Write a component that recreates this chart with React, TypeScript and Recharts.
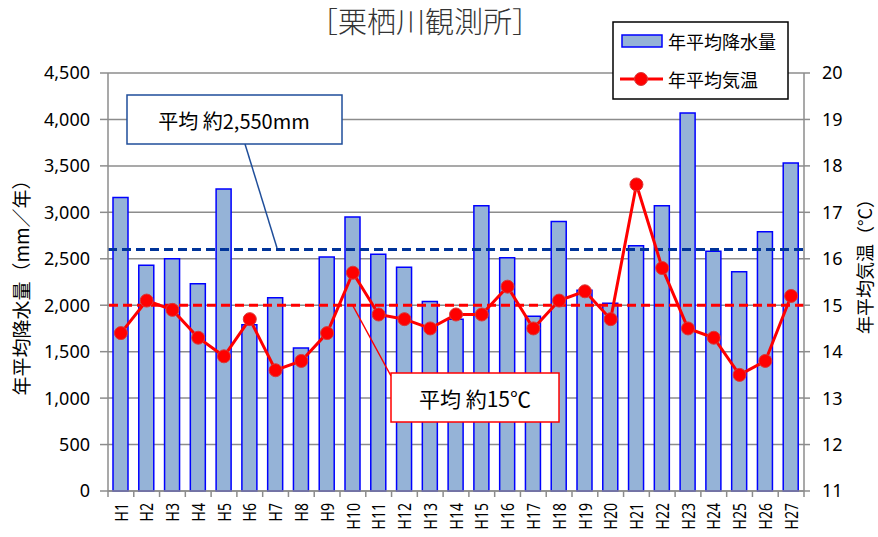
import { ComposedChart, Bar, Line, XAxis, YAxis, CartesianGrid, ReferenceLine } from 'recharts'

const categories = ['H1', 'H2', 'H3', 'H4', 'H5', 'H6', 'H7', 'H8', 'H9', 'H10', 'H11', 'H12', 'H13', 'H14', 'H15', 'H16', 'H17', 'H18', 'H19', 'H20', 'H21', 'H22', 'H23', 'H24', 'H25', 'H26', 'H27']
const rainfall = [3160, 2430, 2500, 2230, 3250, 1790, 2080, 1540, 2520, 2950, 2550, 2410, 2040, 1850, 3070, 2510, 1880, 2900, 2160, 2020, 2640, 3070, 4070, 2580, 2360, 2790, 3530]
const temperature = [14.4, 15.1, 14.9, 14.3, 13.9, 14.7, 13.6, 13.8, 14.4, 15.7, 14.8, 14.7, 14.5, 14.8, 14.8, 15.4, 14.5, 15.1, 15.3, 14.7, 17.6, 15.8, 14.5, 14.3, 13.5, 13.8, 15.2]
const rainTicks = [0, 500, 1000, 1500, 2000, 2500, 3000, 3500, 4000, 4500]
const tempTicks = [11, 12, 13, 14, 15, 16, 17, 18, 19, 20]
const rainAverageLine = 2600
const tempAverageLine = 15

const data = categories.map((name, i) => ({ name, rain: rainfall[i], temp: temperature[i] }))

const W = 878
const H = 537
const PLOT_LEFT = 108
const PLOT_RIGHT = 804
const BAND = (PLOT_RIGHT - PLOT_LEFT) / categories.length
const AXIS_GRAY = '#8c8c8c'
const NUM_FONT = '"Noto Sans", sans-serif'
const JP_FONT = '"Noto Sans CJK JP", sans-serif'

function XTick(props: any) {
    const { x, y, payload, index } = props
    const last = index === categories.length - 1
    return (
        <g>
            <line x1={x - BAND / 2} x2={x - BAND / 2} y1={y} y2={y + 6} stroke={AXIS_GRAY} strokeWidth={1.5} />
            {last && <line x1={x + BAND / 2} x2={x + BAND / 2} y1={y} y2={y + 6} stroke={AXIS_GRAY} strokeWidth={1.5} />}
            <text
                transform={`translate(${x},${y + 12}) rotate(-90) scale(0.78,1)`}
                textAnchor="end"
                dominantBaseline="central"
                fontSize={18}
                fontFamily={NUM_FONT}
                fill="#000"
            >
                {payload.value}
            </text>
        </g>
    )
}

export default function App() {
    return (
        <div style={{ position: 'absolute', left: 0, top: 0, width: W, height: H, background: '#fff', overflow: 'hidden' }}>
            <ComposedChart width={W} height={H} data={data} margin={{ top: 73, right: 0, bottom: 0, left: 0 }}>
                <CartesianGrid vertical={false} stroke={AXIS_GRAY} strokeWidth={1.5} yAxisId="rain" />
                <XAxis
                    dataKey="name"
                    height={46}
                    interval={0}
                    tickLine={false}
                    tickSize={0}
                    tickMargin={0}
                    stroke={AXIS_GRAY}
                    strokeWidth={1.5}
                    tick={<XTick />}
                />
                <YAxis
                    yAxisId="rain"
                    width={108}
                    domain={[0, 4500]}
                    ticks={rainTicks}
                    tickFormatter={(v: number) => v.toLocaleString('en-US')}
                    tickSize={8}
                    tickMargin={10}
                    stroke={AXIS_GRAY}
                    strokeWidth={1.5}
                    tick={{ fill: '#000', fontSize: 18, fontFamily: NUM_FONT }}
                />
                <YAxis
                    yAxisId="temp"
                    orientation="right"
                    width={74}
                    domain={[11, 20]}
                    ticks={tempTicks}
                    tickSize={6}
                    tickMargin={12}
                    stroke={AXIS_GRAY}
                    strokeWidth={1.5}
                    tick={{ fill: '#000', fontSize: 18, fontFamily: NUM_FONT }}
                />
                <Bar yAxisId="rain" dataKey="rain" barSize={15} fill="#95b3d7" stroke="#0000ff" strokeWidth={1.5} isAnimationActive={false} />
                <ReferenceLine yAxisId="rain" y={rainAverageLine} stroke="#003399" strokeWidth={3} strokeDasharray="9 5" />
                <ReferenceLine yAxisId="temp" y={tempAverageLine} stroke="#ff0000" strokeWidth={3} strokeDasharray="9 5" />
                <Line
                    yAxisId="temp"
                    dataKey="temp"
                    stroke="#ff0000"
                    strokeWidth={3}
                    dot={{ r: 6.5, fill: '#ff0000', stroke: '#d83a3a', strokeWidth: 1 }}
                    isAnimationActive={false}
                />
            </ComposedChart>

            {/* titles, callouts and legend */}
            <svg width={W} height={H} style={{ position: 'absolute', left: 0, top: 0, pointerEvents: 'none' }}>
                <text x={425} y={33} textAnchor="middle" fontSize={29} fontWeight={300} fontFamily={JP_FONT} fill="#333">［栗栖川観測所］</text>
                <text transform="translate(20,283) rotate(-90)" textAnchor="middle" dominantBaseline="central" fontSize={19} fontFamily={JP_FONT} fill="#000">年平均降水量（mm／年）</text>
                <text transform="translate(864,262) rotate(-90)" textAnchor="middle" dominantBaseline="central" fontSize={18} fontFamily={JP_FONT} fill="#000">年平均気温（°C）</text>

                <line x1={245} y1={144} x2={277} y2={248} stroke="#1f4e9a" strokeWidth={1.5} />
                <rect x={127} y={95} width={215} height={49} fill="#fff" stroke="#1f4e9a" strokeWidth={1.5} />
                <text x={234} y={120} textAnchor="middle" dominantBaseline="central" fontSize={20} fontFamily={JP_FONT} fill="#000">平均 約2,550mm</text>

                <line x1={353} y1={306} x2={391} y2={376} stroke="#ff0000" strokeWidth={1.5} />
                <rect x={391} y={373} width={168} height={49} fill="#fff" stroke="#ff0000" strokeWidth={1.5} />
                <text x={475} y={398} textAnchor="middle" dominantBaseline="central" fontSize={21} fontFamily={JP_FONT} fill="#000">平均 約15℃</text>

                <rect x={613} y={22} width={175} height={77} fill="#fff" stroke="#000" strokeWidth={1.5} />
                <rect x={622} y={35} width={40} height={12} fill="#95b3d7" stroke="#0000ff" strokeWidth={1.5} />
                <text x={668} y={41} dominantBaseline="central" fontSize={18} fontFamily={JP_FONT} fill="#000">年平均降水量</text>
                <line x1={620} x2={663} y1={79} y2={79} stroke="#ff0000" strokeWidth={3} />
                <circle cx={641} cy={79} r={6.5} fill="#ff0000" stroke="#d83a3a" strokeWidth={1} />
                <text x={668} y={79} dominantBaseline="central" fontSize={18} fontFamily={JP_FONT} fill="#000">年平均気温</text>
            </svg>
        </div>
    )
}
